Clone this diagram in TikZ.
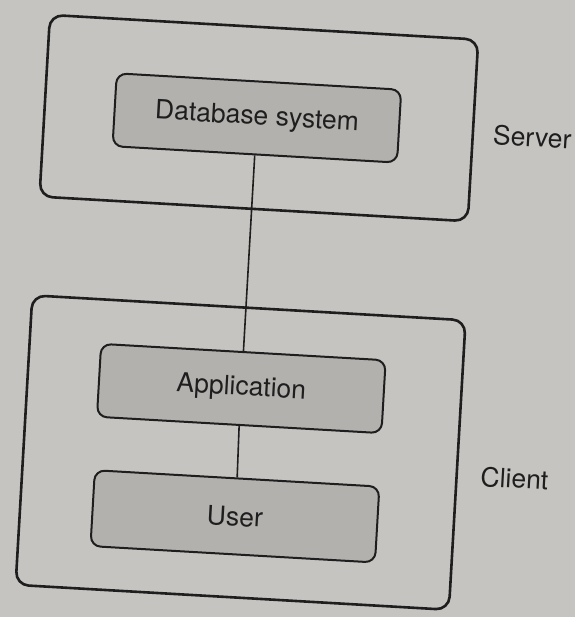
\documentclass[tikz,border=0pt]{standalone}
\usepackage{fontspec}
\setmainfont{TeX Gyre Heros}
\definecolor{paper}{HTML}{C6C4C1}
\definecolor{boxfill}{HTML}{B3B1AE}
\definecolor{ink}{HTML}{1E1E1E}
\begin{document}
\begin{tikzpicture}[x=1pt,y=-1pt,
  tier/.style={draw=ink,line width=2.6pt,rounded corners=13pt,minimum width=#1},
  layerbox/.style={draw=ink,fill=boxfill,line width=2pt,rounded corners=10pt,
    minimum width=285pt,minimum height=73pt,
    font=\fontsize{26.5}{30}\selectfont,text=ink},
  tierlabel/.style={font=\fontsize{26.5}{30}\selectfont,text=ink},
  link/.style={draw=ink,line width=1.6pt}]
  \useasboundingbox (0,0) rectangle (575,617);
  \fill[paper] (0,0) rectangle (575,617);
  \begin{scope}[rotate around={-3.3:(287,308)},transform shape]
    % server tier
    \node[tier=429pt,minimum height=182pt] (server) at (248,120) {};
    \node[layerbox] (db) at (246,120) {Database system};
    \node[tierlabel] (serverlbl) at (522,123) {Server};
    % client tier
    \node[tier=434pt,minimum height=290pt] (client) at (249,455) {};
    \node[layerbox] (app) at (246,391) {Application};
    \node[layerbox,minimum height=76pt] (user) at (247,519) {User};
    \node[tierlabel] (clientlbl) at (524,465) {Client};
    % connections
    \draw[link] (db.south) -- (app.north);
    \draw[link] (app.south) -- (user.north);
  \end{scope}
\end{tikzpicture}
\end{document}
